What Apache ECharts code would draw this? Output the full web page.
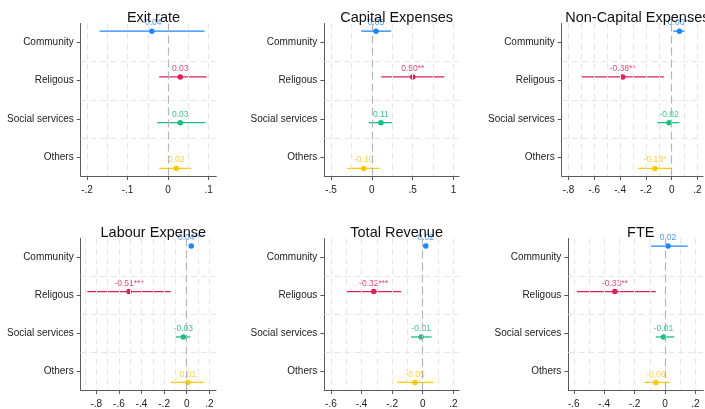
<!DOCTYPE html>
<html>
<head>
<meta charset="utf-8">
<title>Coefficient plots</title>
<script src="https://cdn.jsdelivr.net/npm/echarts@6/dist/echarts.min.js"></script>
<style>
  html, body { margin: 0; padding: 0; background: #ffffff; }
  #chart { width: 705px; height: 409px; }
</style>
</head>
<body>
<div id="chart"></div>
<script>
// Organisation types (one row per type)
const categories = ['Community', 'Religous', 'Social services', 'Others'];

const panelTitles = ['Exit rate', 'Capital Expenses', 'Non-Capital Expenses',
                     'Labour Expense', 'Total Revenue', 'FTE'];

// Point estimates, 95% CI bounds and significance stars per outcome
const exitRateEst   = [-0.04, 0.03, 0.03, 0.02];
const exitRateLo    = [-0.169, -0.022, -0.027, -0.022];
const exitRateHi    = [0.090, 0.095, 0.092, 0.057];
const exitRateStars = ['', '', '', ''];

const capitalEst    = [0.05, 0.50, 0.11, -0.10];
const capitalLo     = [-0.130, 0.114, -0.040, -0.300];
const capitalHi     = [0.236, 0.888, 0.250, 0.093];
const capitalStars  = ['', '**', '', ''];

const nonCapitalEst   = [0.06, -0.38, -0.02, -0.13];
const nonCapitalLo    = [0.012, -0.700, -0.110, -0.260];
const nonCapitalHi    = [0.100, -0.060, 0.060, 0.000];
const nonCapitalStars = ['**', '**', '', '*'];

const labourEst   = [0.04, -0.51, -0.03, 0.01];
const labourLo    = [0.034, -0.880, -0.097, -0.139];
const labourHi    = [0.054, -0.142, 0.032, 0.156];
const labourStars = ['***', '***', '', ''];

const revenueEst   = [0.02, -0.32, -0.01, -0.05];
const revenueLo    = [0.008, -0.497, -0.076, -0.166];
const revenueHi    = [0.030, -0.142, 0.059, 0.069];
const revenueStars = ['', '***', '', ''];

const fteEst   = [0.02, -0.33, -0.01, -0.06];
const fteLo    = [-0.092, -0.580, -0.061, -0.136];
const fteHi    = [0.149, -0.060, 0.061, 0.033];
const fteStars = ['', '**', '', ''];

// Labelled x-axis ticks and the minor grid step for each outcome
const exitRateTicks   = [-0.2, -0.1, 0, 0.1];
const capitalTicks    = [-0.5, 0, 0.5, 1];
const nonCapitalTicks = [-0.8, -0.6, -0.4, -0.2, 0, 0.2];
const labourTicks     = [-0.8, -0.6, -0.4, -0.2, 0, 0.2];
const revenueTicks    = [-0.6, -0.4, -0.2, 0, 0.2];
const fteTicks        = [-0.6, -0.4, -0.2, 0, 0.2];
const minorSteps      = [0.05, 0.25, 0.1, 0.1, 0.1, 0.1];

// ---- styling & layout ----
const colors      = ['#1f86fb', '#dd1f5b', '#17bf80', '#ffc800'];
const labelColors = ['#4a9cfb', '#e2497a', '#3cc892', '#ffd23a'];
const rowOffsets  = [-0.3, -0.1, 0.1, 0.3];
const FONT = '"Liberation Sans", Arial, Helvetica, sans-serif';

const panels = [
  { est: exitRateEst,   lo: exitRateLo,   hi: exitRateHi,   stars: exitRateStars,   ticks: exitRateTicks },
  { est: capitalEst,    lo: capitalLo,    hi: capitalHi,    stars: capitalStars,    ticks: capitalTicks },
  { est: nonCapitalEst, lo: nonCapitalLo, hi: nonCapitalHi, stars: nonCapitalStars, ticks: nonCapitalTicks },
  { est: labourEst,     lo: labourLo,     hi: labourHi,     stars: labourStars,     ticks: labourTicks },
  { est: revenueEst,    lo: revenueLo,    hi: revenueHi,    stars: revenueStars,    ticks: revenueTicks },
  { est: fteEst,        lo: fteLo,        hi: fteHi,        stars: fteStars,        ticks: fteTicks }
];

// plot boxes (px) and x ranges
const boxes = [
  { left: 80.7,  top: 23.5,  width: 135.6, height: 152.5, min: -0.2156, max: 0.119 },
  { left: 324.3, top: 23.5,  width: 134.7, height: 152.5, min: -0.583,  max: 1.067 },
  { left: 561.7, top: 23.5,  width: 141.3, height: 152.5, min: -0.853,  max: 0.243 },
  { left: 80.7,  top: 238.5, width: 135.3, height: 153,   min: -0.938,  max: 0.259 },
  { left: 324.3, top: 238.5, width: 134.7, height: 153,   min: -0.643,  max: 0.237 },
  { left: 568.3, top: 238.5, width: 135,   height: 153,   min: -0.636,  max: 0.252 }
];

// Stata-like numbers: -.2, .1, 0, 1
function stataNum(v) {
  if (Math.abs(v) < 1e-9) return '0';
  let s = String(+v.toFixed(2));
  return s.replace(/^(-?)0\./, '$1.');
}

const AXIS_COLOR = '#5a5a5a';
const grids = [], xAxes = [], yAxes = [], series = [], titles = [];

panels.forEach((p, k) => {
  const b = boxes[k];
  grids.push({ left: b.left, top: b.top, width: b.width, height: b.height, containLabel: false });

  titles.push({
    text: panelTitles[k],
    left: b.left + b.width / 2,
    top: b.top - 18.5,
    textAlign: 'center',
    textStyle: { fontFamily: FONT, fontSize: 14.5, fontWeight: 'normal', color: '#111' }
  });

  xAxes.push({
    type: 'value', gridIndex: k, min: b.min, max: b.max, position: 'bottom',
    axisLine: { show: true, onZero: false, lineStyle: { color: AXIS_COLOR, width: 1 } },
    axisTick: { show: true, length: 4, customValues: p.ticks, lineStyle: { color: AXIS_COLOR } },
    axisLabel: { show: true, customValues: p.ticks, margin: 9, fontSize: 10, fontFamily: FONT,
                 color: '#222', formatter: v => stataNum(v) },
    splitLine: { show: false }
  });

  yAxes.push({
    type: 'value', gridIndex: k, min: -0.5, max: 3.5, inverse: true, position: 'left',
    axisLine: { show: true, onZero: false, lineStyle: { color: AXIS_COLOR, width: 1 } },
    axisTick: { show: true, length: 4, customValues: [0, 1, 2, 3], lineStyle: { color: AXIS_COLOR } },
    axisLabel: { show: true, customValues: [0, 1, 2, 3], margin: 7, fontSize: 10, fontFamily: FONT,
                 color: '#222', formatter: v => categories[Math.round(v)] || '' },
    splitLine: { show: false }
  });

  // background grid: vertical lines at major + minor steps, horizontal lines between rows
  const step = minorSteps[k];
  const vLines = [];
  const first = Math.ceil((b.min - 1e-9) / step), last = Math.floor((b.max + 1e-9) / step);
  for (let i = first; i <= last; i++) {
    const v = +(i * step).toFixed(4);
    if (Math.abs(v) < 1e-9) continue;
    vLines.push({ xAxis: v });
  }
  const hLines = [0.5, 1.5, 2.5].map(y => ({ yAxis: y }));
  series.push({
    type: 'scatter', xAxisIndex: k, yAxisIndex: k, z: 1, silent: true,
    symbolSize: 0, data: [[0, 0]],
    markLine: {
      silent: true, symbol: 'none', animation: false, label: { show: false },
      lineStyle: { color: '#e6e6e6', width: 1, type: [6, 4] },
      data: vLines.concat(hLines)
    }
  });
  // zero reference line
  series.push({
    type: 'scatter', xAxisIndex: k, yAxisIndex: k, z: 2, silent: true,
    symbolSize: 0, data: [[0, 0]],
    markLine: {
      silent: true, symbol: 'none', animation: false, label: { show: false },
      lineStyle: { color: '#b4b4b4', width: 1.2, type: [8, 4] },
      data: [{ xAxis: 0 }]
    }
  });

  // confidence intervals
  series.push({
    type: 'custom', xAxisIndex: k, yAxisIndex: k, z: 3, silent: true,
    encode: { x: [1, 2], y: 0 },
    data: categories.map((c, i) => [i + rowOffsets[i], p.lo[i], p.hi[i]]),
    renderItem: (params, api) => {
      const y = api.value(0);
      const a = api.coord([api.value(1), y]);
      const c = api.coord([api.value(2), y]);
      return {
        type: 'line',
        shape: { x1: a[0], y1: a[1], x2: c[0], y2: c[1] },
        style: { stroke: colors[params.dataIndex], lineWidth: 1.3 }
      };
    }
  });

  // point estimates with value labels
  series.push({
    type: 'scatter', xAxisIndex: k, yAxisIndex: k, z: 4, silent: true,
    symbol: 'circle', symbolSize: 5.5,
    data: categories.map((c, i) => ({
      value: [p.est[i], i + rowOffsets[i]],
      itemStyle: { color: colors[i], opacity: 1 },
      label: {
        show: true, position: 'top', distance: 1,
        formatter: p.est[i].toFixed(2) + p.stars[i],
        color: labelColors[i], fontSize: 8.5, fontFamily: FONT
      }
    }))
  });
});

const chart = echarts.init(document.getElementById('chart'), null, { renderer: 'canvas' });
chart.setOption({
  animation: false,
  backgroundColor: '#ffffff',
  textStyle: { fontFamily: FONT },
  title: titles,
  grid: grids,
  xAxis: xAxes,
  yAxis: yAxes,
  series: series
});
</script>
</body>
</html>
